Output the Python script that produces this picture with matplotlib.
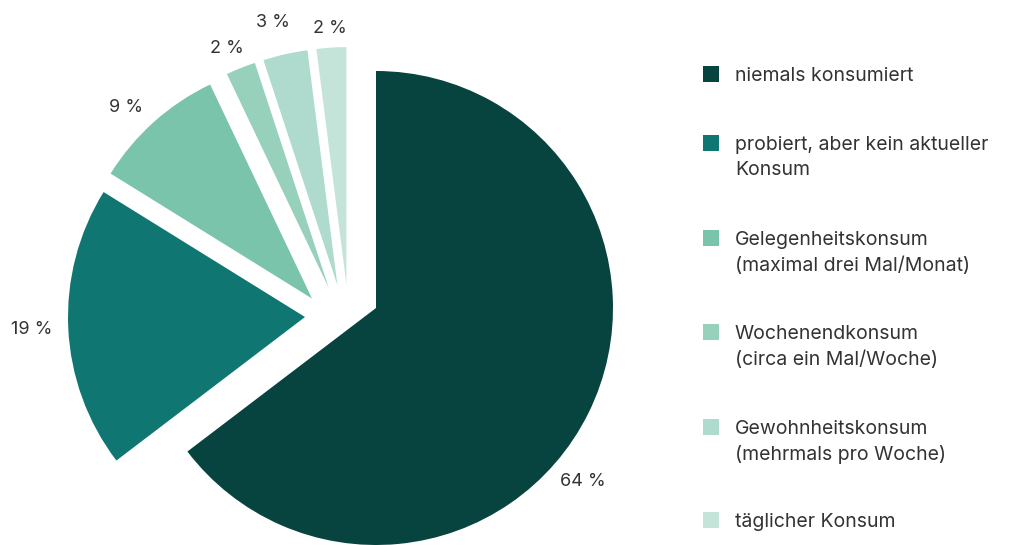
import matplotlib
matplotlib.use("Agg")
import matplotlib.pyplot as plt
from matplotlib.patches import Rectangle

plt.rcParams['font.family'] = ['Inter', 'DejaVu Sans']

# ==========================
# DATA
# ==========================
categories = [
    "niemals konsumiert",
    "probiert, aber kein aktueller\nKonsum",
    "Gelegenheitskonsum\n(maximal drei Mal/Monat)",
    "Wochenendkonsum\n(circa ein Mal/Woche)",
    "Gewohnheitskonsum\n(mehrmals pro Woche)",
    "täglicher Konsum",
]
shares = [64, 19, 9, 2, 3, 2]
share_labels = ["64 %", "19 %", "9 %", "2 %", "3 %", "2 %"]
colors = ["#07433f", "#107672", "#79c4aa", "#97d1bc", "#aedbce", "#c4e4da"]

# ==========================
# LAYOUT (pixels, y measured from the top)
# ==========================
W, H = 1012, 545
RADIUS = 237
PIE_CENTER = (350, 341)
explode = [0, 0, 57, 57, 57, 57]
# extra shift of the two large slices
shift = [(26, -33), (-45, -24), (0, 0), (0, 0), (0, 0), (0, 0)]
label_xy = [(583, 482), (32, 330), (126, 107), (227, 48), (273, 22), (330, 28)]
legend_y = [74, 143, 238, 332, 427, 520]
TEXT_COLOR = "#333333"

fig = plt.figure(figsize=(W / 100, H / 100), dpi=100)
ax = fig.add_axes([0, 0, 1, 1])

wedges, _ = ax.pie(
    shares, colors=colors, startangle=90, counterclock=False,
    radius=RADIUS, center=(PIE_CENTER[0], H - PIE_CENTER[1]),
    explode=explode, wedgeprops=dict(linewidth=0),
)
for w, (dx, dy) in zip(wedges, shift):
    cx, cy = w.center
    w.set_center((cx + dx, cy - dy))

for lab, (x, y) in zip(share_labels, label_xy):
    ax.text(x, H - y, lab, ha="center", va="center", fontsize=13,
            color=TEXT_COLOR)

# legend
for cat, col, yc in zip(categories, colors, legend_y):
    ax.add_patch(Rectangle((703, H - yc - 8), 16, 16, color=col, lw=0))
    ax.text(735, H - (yc - 7), cat, ha="left", va="top", fontsize=14,
            color=TEXT_COLOR, linespacing=1.5)

ax.set_xlim(0, W)
ax.set_ylim(0, H)
ax.set_aspect("equal")
ax.axis("off")

fig.savefig("out.png", dpi=100)
